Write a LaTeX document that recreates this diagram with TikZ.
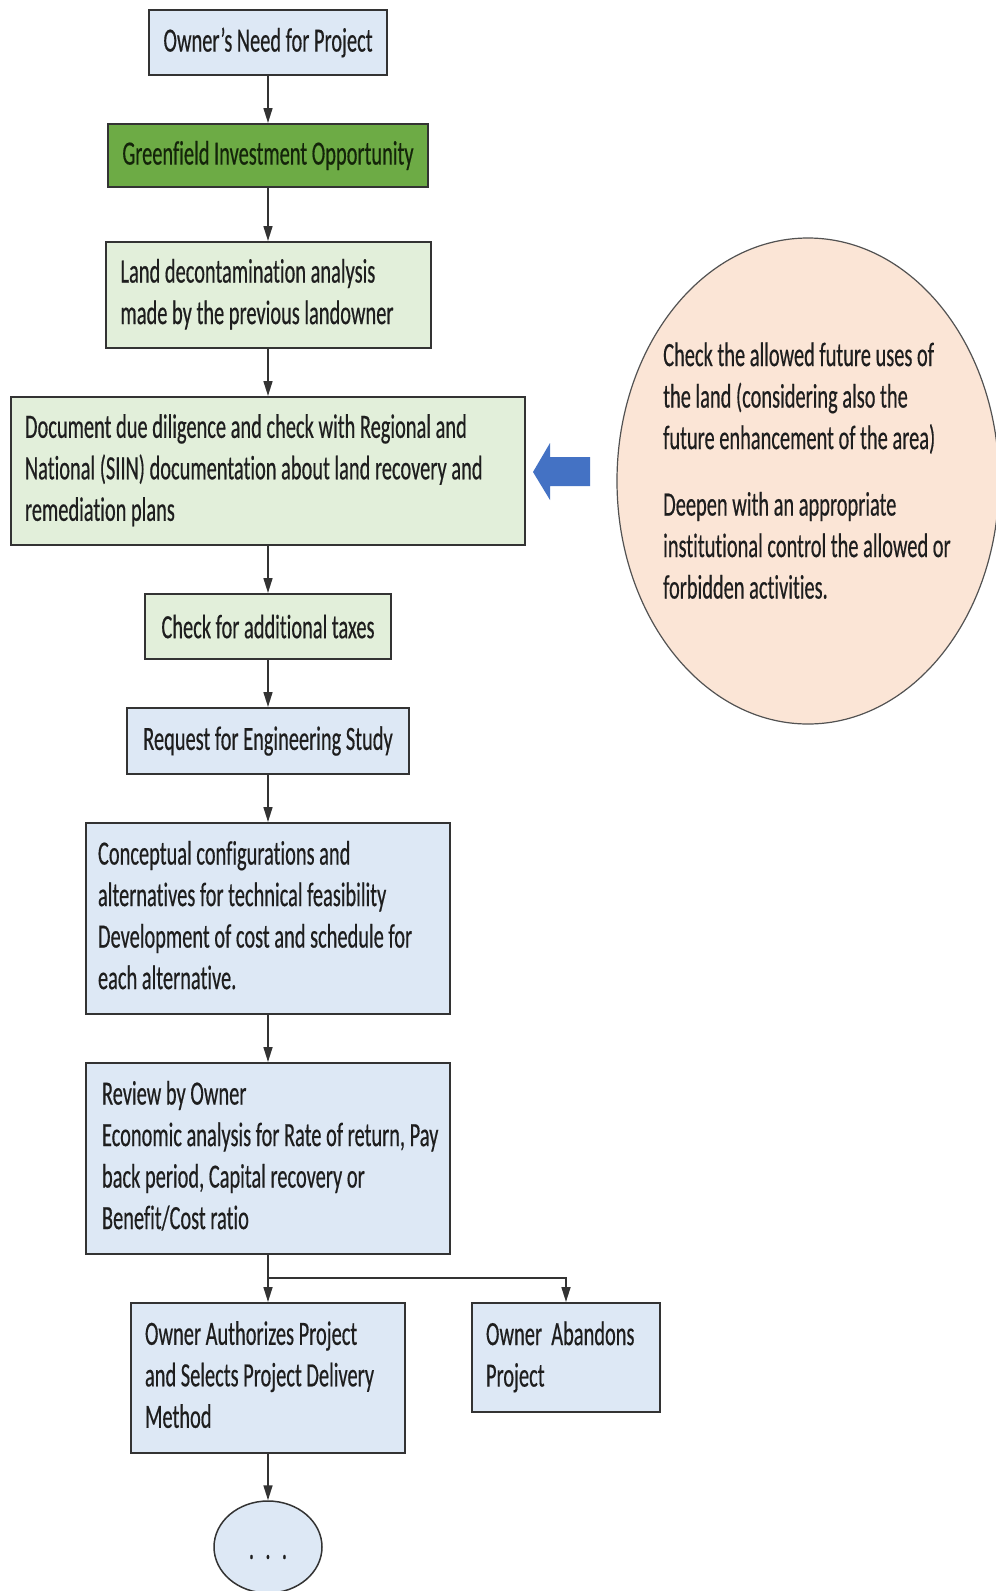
\documentclass[tikz,border=0pt]{standalone}
\usepackage{fontspec}
\setmainfont{Carlito}[FakeStretch=0.6, FakeBold=0.4, Ligatures=NoCommon]
\usetikzlibrary{arrows.meta,shapes.geometric}

\definecolor{paleblue}{HTML}{DDE8F5}
\definecolor{palegreen}{HTML}{E2EFDA}
\definecolor{leafgreen}{HTML}{6DAB45}
\definecolor{peach}{HTML}{FBE5D6}
\definecolor{arrowblue}{HTML}{4472C4}
\definecolor{boxline}{HTML}{333333}
\definecolor{txt}{HTML}{1E1E1E}
\definecolor{darkleaf}{HTML}{14240A}

% left-aligned lines of fixed width, never re-broken
\newcommand{\boxlines}[2]{\makebox[#1][l]{\begin{tabular}{@{}l@{}}#2\end{tabular}}}

\tikzset{
  flowbox/.style={draw=boxline, line width=2pt, rectangle, inner ysep=2pt,
    text=txt, font=\fontsize{34}{41.5}\selectfont},
  bluebox/.style={flowbox, fill=paleblue},
  greenbox/.style={flowbox, fill=palegreen},
  link/.style={draw=boxline, line width=1.6pt, -{Triangle[length=15pt,width=9pt]}},
  plainlink/.style={draw=boxline, line width=1.6pt},
}

\begin{document}
\begin{tikzpicture}[x=1pt,y=-1pt]
  \useasboundingbox (0,0) rectangle (996,1591);
  \fill[white] (0,0) rectangle (996,1591);

  % main column
  \node[bluebox, minimum width=238pt, minimum height=65pt] (need) at (268,42.5)
    {Owner’s Need for Project};
  \node[flowbox, fill=leafgreen, text=darkleaf, minimum width=320pt, minimum height=63pt] (green) at (268,155.5)
    {Greenfield Investment Opportunity};
  \node[greenbox, minimum width=325pt, minimum height=106pt, inner xsep=15pt] (land) at (268,295)
    {\boxlines{295pt}{Land decontamination analysis\\made by the previous landowner}};
  \node[greenbox, minimum width=514pt, minimum height=148pt, inner xsep=14pt] (docs) at (268,471)
    {\boxlines{486pt}{Document due diligence and check with Regional and\\National (SIIN) documentation about land recovery and\\remediation plans}};
  \node[greenbox, minimum width=246pt, minimum height=65pt] (taxes) at (268,626.5)
    {Check for additional taxes};
  \node[bluebox, minimum width=282pt, minimum height=66pt] (request) at (268,741)
    {Request for Engineering Study};
  \node[bluebox, minimum width=364pt, minimum height=191pt, inner xsep=12pt] (concept) at (268,918.5)
    {\boxlines{340pt}{Conceptual configurations and\\alternatives for technical feasibility\\Development of cost and schedule for\\each alternative.}};
  \node[bluebox, minimum width=364pt, minimum height=191pt, inner xsep=16pt] (review) at (268,1158.5)
    {\boxlines{332pt}{Review by Owner\\Economic analysis for Rate of return, Pay\\back period, Capital recovery or\\Benefit/Cost ratio}};
  \node[bluebox, minimum width=274pt, minimum height=150pt, inner xsep=14pt] (auth) at (268,1378)
    {\boxlines{246pt}{Owner Authorizes Project\\and Selects Project Delivery\\Method}};
  \node[bluebox, minimum width=188pt, minimum height=109pt, inner xsep=14pt] (abandon) at (566,1357.5)
    {\boxlines{160pt}{Owner\ \ Abandons\\Project}};
  \node[ellipse, draw=boxline, line width=1.5pt, fill=paleblue,
        minimum width=108pt, minimum height=92pt, inner sep=0pt] (next) at (268,1547) {};
  \node[text=txt, font=\fontsize{34}{41.5}\selectfont, inner sep=0pt] (dots) at (268,1557) {.\,\,.\,\,.};

  % side note
  \node[ellipse, draw=boxline!85, line width=1.2pt, fill=peach,
        minimum width=382pt, minimum height=486pt, inner sep=0pt] (note) at (808,481) {};
  \node[anchor=west, inner sep=0pt, text=txt, font=\fontsize{34}{41.5}\selectfont] (notetext) at (663,474)
    {\begin{tabular}{@{}l@{}}Check the allowed future uses of\\the land (considering also the\\future enhancement of the area)\\[25pt]Deepen with an appropriate\\institutional control the allowed or\\forbidden activities.\end{tabular}};

  % block arrow from the note towards the documentation box
  \fill[arrowblue] (590,457) -- (550,457) -- (550,443) -- (533,472) -- (550,500)
    -- (550,486) -- (590,486) -- cycle;

  % connectors
  \draw[link] (need) -- (green);
  \draw[link] (green) -- (land);
  \draw[link] (land) -- (docs);
  \draw[link] (docs) -- (taxes);
  \draw[link] (taxes) -- (request);
  \draw[link] (request) -- (concept);
  \draw[link] (concept) -- (review);
  \coordinate (fork) at (268,1278);
  \coordinate (forkright) at (abandon |- fork);
  \draw[plainlink] (review) -- (fork);
  \draw[link] (fork) -- (auth);
  \draw[link] (fork) -- (forkright) -- (abandon.north);
  \draw[link] (auth) -- (next);
\end{tikzpicture}
\end{document}
